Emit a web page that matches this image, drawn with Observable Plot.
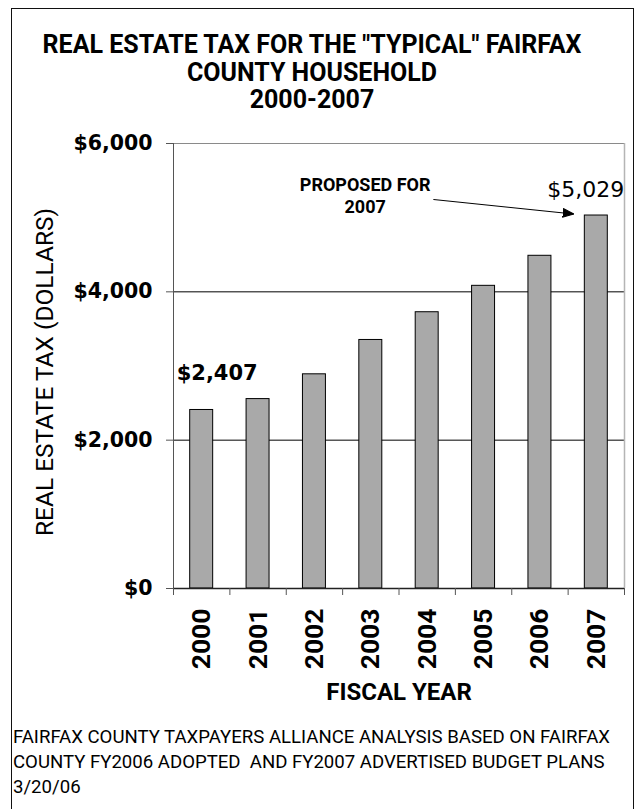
<!DOCTYPE html>
<html>
<head>
<meta charset="utf-8">
<script src="https://cdn.jsdelivr.net/npm/d3@7"></script>
<script src="https://cdn.jsdelivr.net/npm/@observablehq/plot@0.6"></script>
<style>
  html, body { margin: 0; padding: 0; background: #fff; }
  #page { position: relative; width: 635px; height: 809px; overflow: hidden; background: #fff; }
  #frame { position: absolute; left: 11px; top: 8px; width: 623px; height: 900px; box-sizing: border-box;
           border: 1.5px solid #111; border-bottom: none; pointer-events: none; z-index: 5; }
  #title { position: absolute; left: 0; top: 31px; width: 624px; text-align: center; font-family: Roboto, sans-serif;
           font-weight: 700; font-size: 25px; line-height: 27.5px; color: #000; }
  #chart { position: absolute; left: 0; top: 120px; }
  #note { position: absolute; left: 13px; top: 725px; font-family: Roboto, sans-serif; font-size: 18.6px;
          line-height: 25px; color: #000; white-space: pre; }
</style>
</head>
<body>
<div id="page">
  <div id="title"></div>
  <div id="chart"></div>
  <div id="note"></div>
  <div id="frame"></div>
</div>
<script>
// ---- data ----
const years = ["2000", "2001", "2002", "2003", "2004", "2005", "2006", "2007"];
const taxes = [2407, 2554, 2888, 3351, 3725, 4081, 4486, 5029];
const yTicks = [0, 2000, 4000, 6000];
const gridValues = [2000, 4000];
const titleLines = ['REAL ESTATE TAX FOR THE "TYPICAL" FAIRFAX', 'COUNTY HOUSEHOLD', '2000-2007'];
const noteLines = [
  'FAIRFAX COUNTY TAXPAYERS ALLIANCE ANALYSIS BASED ON FAIRFAX',
  'COUNTY FY2006 ADOPTED  AND FY2007 ADVERTISED BUDGET PLANS',
  '3/20/06'
];
const yLabel = 'REAL ESTATE TAX (DOLLARS)';
const xLabel = 'FISCAL YEAR';
const calloutText = 'PROPOSED FOR\n2007';
// callout label and arrow, in data units (bar index, dollars)
const callout = [{x: 3.4, y: 5305, text: calloutText}];
const calloutArrow = [{x1: 4.61, y1: 5245, x2: 7.1, y2: 5049}];

// ---- build ----
const money = d3.format("$,");
const rows = years.map((year, i) => ({year, i, tax: taxes[i]}));
const first = rows[0];
const last = rows[rows.length - 1];

document.getElementById("title").innerHTML = titleLines.map(s => s.replace(/&/g, "&amp;").replace(/</g, "&lt;")).join("<br>");
document.getElementById("note").textContent = noteLines.join("\n");

const filledArrow = (color) => {
  const ns = "http://www.w3.org/2000/svg";
  const m = document.createElementNS(ns, "marker");
  m.setAttribute("viewBox", "-10 -5 10 10");
  m.setAttribute("markerWidth", "11");
  m.setAttribute("markerHeight", "11");
  m.setAttribute("markerUnits", "userSpaceOnUse");
  m.setAttribute("orient", "auto");
  const p = document.createElementNS(ns, "path");
  p.setAttribute("d", "M-10,-4L0,0L-10,4Z");
  p.setAttribute("fill", color);
  m.append(p);
  return m;
};

const chart = Plot.plot({
  width: 635,
  height: 600,
  marginTop: 23,
  marginBottom: 132,
  marginLeft: 173,
  marginRight: 11,
  x: {domain: [0, years.length]},
  y: {domain: [0, 6000]},
  style: {fontFamily: "Roboto, sans-serif", background: "transparent", overflow: "visible", color: "#000"},
  marks: [
    Plot.ruleY(gridValues, {stroke: "#000", strokeWidth: 1}),
    Plot.ruleY([6000], {stroke: "#8a8a8a", strokeWidth: 1}),
    Plot.ruleX([years.length], {stroke: "#b5b5b5", strokeWidth: 1.5}),
    Plot.rectY(rows, {x1: "i", x2: d => d.i + 1, y: "tax", insetLeft: 16.7, insetRight: 16.7,
      fill: "#a9a9a9", stroke: "#000", strokeWidth: 1}),
    Plot.ruleX([0], {stroke: "#555", strokeWidth: 1}),
    Plot.ruleY([0], {stroke: "#222", strokeWidth: 1.3}),
    Plot.axisY({ticks: yTicks, tickFormat: money, tickSize: 7, tickPadding: 14, fontSize: 20.5,
      fontWeight: "bold", fontFamily: "DejaVu Sans", stroke: "#555", label: null}),
    Plot.axisX({ticks: d3.range(years.length + 1), tickSize: 7, tickFormat: () => null, stroke: "#555", label: null}),
    Plot.text(rows, {x: d => d.i + 0.5, frameAnchor: "bottom", text: "year", rotate: -90, textAnchor: "end",
      lineAnchor: "middle", dy: 20, fontSize: 26.5, fontWeight: "bold"}),
    Plot.text([yLabel], {frameAnchor: "left", rotate: -90, dx: -128, dy: 6, fontSize: 24.5, textAnchor: "middle",
      lineAnchor: "middle"}),
    Plot.text([xLabel], {frameAnchor: "bottom", dy: 104, fontSize: 24, fontWeight: "bold", lineAnchor: "middle"}),
    Plot.text([first], {x: d => d.i + 0.5, y: "tax", text: d => money(d.tax), dx: 15.5, dy: -37,
      fontSize: 21, fontWeight: "bold", fontFamily: "DejaVu Sans", lineAnchor: "middle"}),
    Plot.text([last], {x: d => d.i + 0.5, y: "tax", text: d => money(d.tax), dx: -10.5, dy: -26,
      fontSize: 22, fontFamily: "DejaVu Sans", lineAnchor: "middle"}),
    Plot.text(callout, {x: "x", y: "y", text: "text", fontSize: 18, fontWeight: "bold", lineHeight: 1.22,
      lineAnchor: "middle"}),
    Plot.link(calloutArrow, {x1: "x1", y1: "y1", x2: "x2", y2: "y2", stroke: "#000", strokeWidth: 1,
      markerEnd: filledArrow})
  ]
});
document.getElementById("chart").append(chart);
</script>
</body>
</html>
